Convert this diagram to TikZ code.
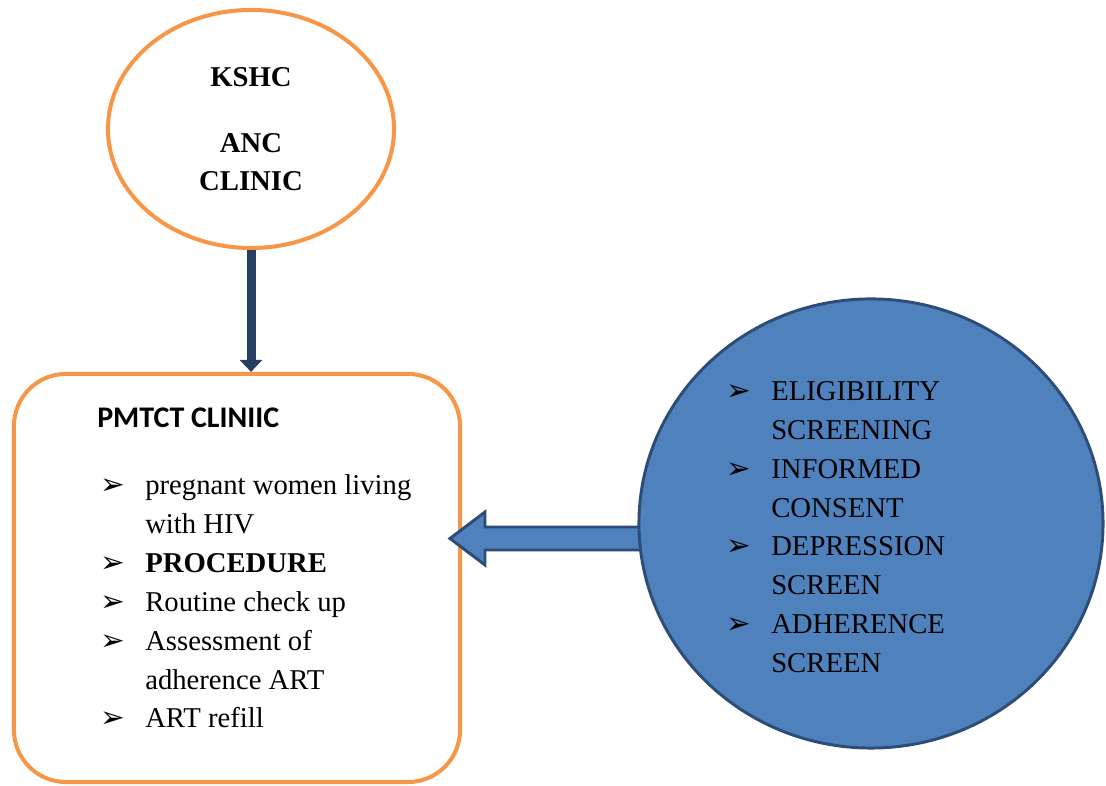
\documentclass[tikz,border=0pt]{standalone}
\usepackage{fontspec}
\setmainfont{Liberation Serif}
\newfontfamily\calibri{Carlito}
\newfontfamily\dingfont{DejaVu Sans}
\usetikzlibrary{positioning,shapes.geometric,arrows.meta}
\definecolor{ancorange}{HTML}{F79646}
\definecolor{navy}{HTML}{243F60}
\definecolor{screenblue}{HTML}{4F81BD}
\definecolor{screenedge}{HTML}{2C4D75}
\newcommand{\arrowbullet}{\makebox[32pt][l]{\dingfont\fontsize{21}{21}\selectfont ➢}}
\newcommand{\listfont}{\fontsize{20.4}{27.6}\selectfont}

\begin{document}
\begin{tikzpicture}[x=0.025cm,y=0.025cm,
    clinic/.style={draw=ancorange,line width=2.85pt}]
    \useasboundingbox (0,0) rectangle (1106,786);

    % ANC clinic
    \node[ellipse,clinic,inner sep=0pt,minimum width=7.15cm,minimum height=5.95cm,
          align=center,font=\bfseries\fontsize{20.4}{27}\selectfont] (anc) at (251,657)
          {KSHC\\[20pt]ANC\\CLINIC};

    % PMTCT clinic
    \node[rectangle,rounded corners=1.3cm,clinic,minimum width=11.15cm,minimum height=10.2cm] (pmtct) at (237,208) {};
    \node[anchor=base west,inner sep=0pt,font=\calibri\bfseries\fontsize{21.3}{25}\selectfont] (pmtcttitle) at (97,358) {PMTCT CLINIIC};
    \node[anchor=base west,inner sep=0pt] (pmtctlist) at (100,291) {\listfont
        \begin{tabular}[t]{@{}l@{}}
        \arrowbullet pregnant women living\\
        \hspace{32pt}with HIV\\
        \arrowbullet\textbf{PROCEDURE}\\
        \arrowbullet Routine check up\\
        \arrowbullet Assessment of\\
        \hspace{32pt}adherence ART\\
        \arrowbullet ART refill
        \end{tabular}};

    % block arrow into PMTCT clinic
    \coordinate (tip) at (450,247.5);
    \draw[screenedge,fill=screenblue,line width=2.1pt,line join=miter]
        (tip) -- ++(35,26.5) -- ++(0,-15) -- ++(175,0) -- ++(0,-23) -- ++(-175,0) -- ++(0,-15) -- cycle;

    % screening
    \node[ellipse,draw=screenedge,fill=screenblue,line width=2.1pt,minimum width=11.6cm,minimum height=11.225cm] (screen) at (871,262.5) {};
    \node[anchor=base west,inner sep=0pt] (screenlist) at (726,385.3) {\listfont
        \begin{tabular}[t]{@{}l@{}}
        \arrowbullet ELIGIBILITY\\
        \hspace{32pt}SCREENING\\
        \arrowbullet INFORMED\\
        \hspace{32pt}CONSENT\\
        \arrowbullet DEPRESSION\\
        \hspace{32pt}SCREEN\\
        \arrowbullet ADHERENCE\\
        \hspace{32pt}SCREEN
        \end{tabular}};

    \draw[navy,line width=6.4pt,-{Triangle[width=15.6pt,length=8.5pt]}] (anc.south) -- (anc.south |- pmtct.north);
\end{tikzpicture}
\end{document}
